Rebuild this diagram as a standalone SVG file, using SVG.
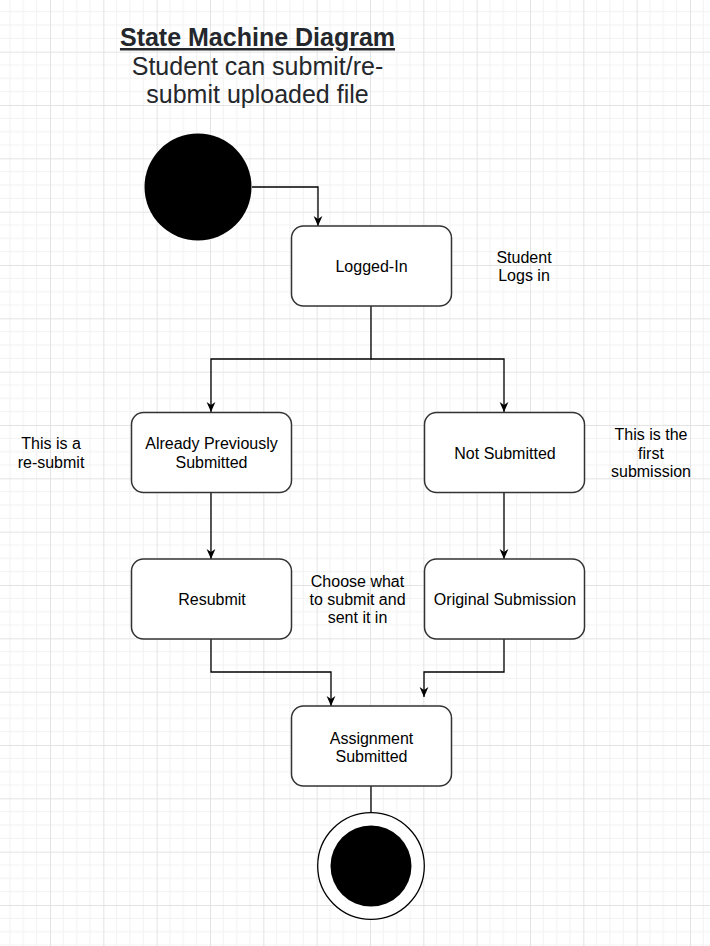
<svg xmlns="http://www.w3.org/2000/svg" width="710" height="946" viewBox="0 0 710 946">
<defs>
<pattern id="grid" patternUnits="userSpaceOnUse" x="50" y="51.67" width="53.333" height="53.333">
<path d="M13.333,0 V53.333 M26.667,0 V53.333 M40,0 V53.333 M0,13.333 H53.333 M0,26.667 H53.333 M0,40 H53.333" stroke="#f2f2f2" stroke-width="1" fill="none"/>
<path d="M0.5,0 V53.333 M0,0.5 H53.333" stroke="#e3e3e3" stroke-width="1" fill="none"/>
</pattern>
<marker id="arr" markerUnits="userSpaceOnUse" viewBox="0 0 10 10" refX="10" refY="5" markerWidth="10" markerHeight="10" orient="auto">
<path d="M0,0.6 L10,5 L0,9.4 L3,5 Z" fill="#000"/>
</marker>
</defs>
<style>
.node{fill:#fff;stroke:#333;stroke-width:1.5}
.t{font-family:"Liberation Sans",Arial,sans-serif;font-size:16px;fill:#000;text-anchor:middle}
.title{font-family:"Liberation Sans",Arial,sans-serif;font-size:25px;fill:#24272b;text-anchor:middle}
.edge{fill:none;stroke:#000;stroke-width:1.3}
</style>
<rect width="710" height="946" fill="#fff"/>
<rect width="710" height="946" fill="url(#grid)"/>

<g id="title">
<text class="title" x="257.5" y="46" font-weight="bold" text-decoration="underline">State Machine Diagram</text>
<text class="title" x="257.5" y="75">Student can submit/re-</text>
<text class="title" x="257.5" y="103">submit uploaded file</text>
</g>

<g id="connectors">
<path class="edge" d="M252,187 H318 V226" marker-end="url(#arr)"/>
<path class="edge" d="M371,306 V359 H211 V412" marker-end="url(#arr)"/>
<path class="edge" d="M371,359 H504 V412" marker-end="url(#arr)"/>
<path class="edge" d="M211,492 V559" marker-end="url(#arr)"/>
<path class="edge" d="M504,492 V559" marker-end="url(#arr)"/>
<path class="edge" d="M211,639 V672 H331 V706" marker-end="url(#arr)"/>
<path class="edge" d="M504,639 V672 H424 V697" marker-end="url(#arr)"/>
<path class="edge" d="M371,786 V813"/>
</g>

<g id="start">
<circle cx="198" cy="187" r="53.5" fill="#000"/>
</g>

<g id="logged-in">
<rect class="node" x="291.5" y="226" width="160" height="80" rx="12"/>
<text class="t" x="371.5" y="272">Logged-In</text>
</g>

<g id="note-logs-in">
<text class="t" x="524" y="263">Student</text>
<text class="t" x="524" y="281">Logs in</text>
</g>

<g id="already-submitted">
<rect class="node" x="131.5" y="412.5" width="160" height="80" rx="12"/>
<text class="t" x="211.5" y="449">Already Previously</text>
<text class="t" x="211.5" y="468">Submitted</text>
</g>

<g id="note-resubmit">
<text class="t" x="51" y="449">This is a</text>
<text class="t" x="51" y="468">re-submit</text>
</g>

<g id="not-submitted">
<rect class="node" x="424.5" y="412.5" width="160" height="80" rx="12"/>
<text class="t" x="505" y="458.5">Not Submitted</text>
</g>

<g id="note-first">
<text class="t" x="651" y="439.5">This is the</text>
<text class="t" x="651" y="458.5">first</text>
<text class="t" x="651" y="476.5">submission</text>
</g>

<g id="resubmit">
<rect class="node" x="131.5" y="559" width="160" height="80" rx="12"/>
<text class="t" x="212" y="604.5">Resubmit</text>
</g>

<g id="note-choose">
<text class="t" x="357.5" y="587">Choose what</text>
<text class="t" x="357.5" y="605">to submit and</text>
<text class="t" x="357.5" y="623">sent it in</text>
</g>

<g id="original-submission">
<rect class="node" x="424.5" y="559" width="160" height="80" rx="12"/>
<text class="t" x="505" y="604.5">Original Submission</text>
</g>

<g id="assignment-submitted">
<rect class="node" x="291.5" y="706" width="160" height="80" rx="12"/>
<text class="t" x="371.5" y="743.5">Assignment</text>
<text class="t" x="371.5" y="761.5">Submitted</text>
</g>

<g id="end">
<circle cx="371" cy="866" r="53.3" fill="#fff" stroke="#000" stroke-width="1.3"/>
<circle cx="371" cy="866" r="40.5" fill="#000"/>
</g>
</svg>
